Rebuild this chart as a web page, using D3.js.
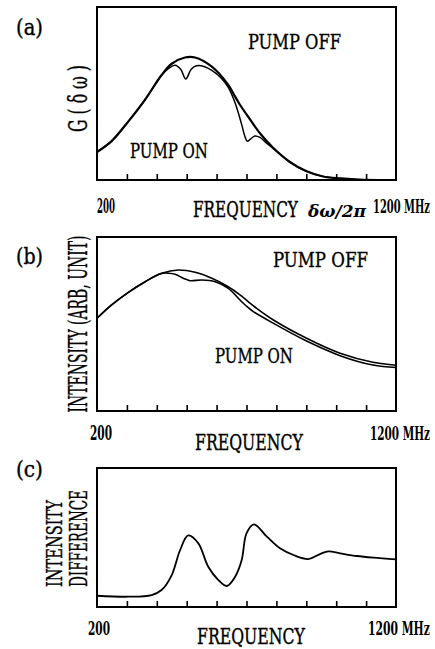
<!DOCTYPE html>
<html>
<head>
<meta charset="utf-8">
<style>
  body { margin: 0; background: #fff; }
  text { font-family: 'DejaVu Serif Condensed', 'DejaVu Serif', serif; fill: #000; stroke: #000; stroke-width: 0.35; }
</style>
</head>
<body>
<svg id="chart" width="435" height="649"></svg>
<script src="https://cdn.jsdelivr.net/npm/d3@7"></script>
<script>
// frequency ticks (MHz)
var tickFreqs = [300, 400, 500, 600, 700, 800, 900, 1000, 1100];

// (a) gain profile G(dw)
var freqA_off = [200, 249, 305, 361, 416, 450, 494, 528, 584, 639, 660, 678, 710, 745, 789, 845, 901, 956, 1013, 1070, 1200];
var gainA_off = [16.2, 22.5, 33.9, 46.5, 60.7, 67.2, 70.8, 70.8, 65.5, 55, 48.8, 43.5, 35.5, 27, 18.6, 10.4, 5, 2, 0.9, 0.3, 0];
var freqA_on = [200, 249, 305, 361, 416, 440, 461, 480, 497, 515, 533, 560, 584, 615, 639, 662, 684, 695, 703, 713, 728, 745, 765, 789, 845, 901, 956, 1013, 1070, 1200];
var gainA_on = [16.2, 22.5, 33.9, 46.5, 60.5, 64.5, 66.3, 64, 58.4, 64, 66, 65.5, 63.4, 59, 53.5, 44.5, 32, 25, 22.4, 23.6, 25.4, 24.6, 21.6, 18.3, 10.4, 5, 2.1, 0.9, 0.3, 0];

// (b) intensity
var freqB_off = [200, 249, 305, 361, 416, 472, 528, 584, 639, 678, 734, 790, 901, 1013, 1123, 1200];
var intB_off = [53.3, 61, 68.2, 74.3, 79.1, 81, 79.7, 76.3, 71.4, 66.7, 59, 52.3, 41.8, 33.2, 28, 26.3];
var freqB_on = [200, 249, 305, 361, 416, 440, 461, 490, 511, 550, 595, 639, 684, 705, 723, 790, 901, 1013, 1123, 1200];
var intB_on = [53.3, 61, 68.2, 74.3, 79, 79.2, 78.6, 76.2, 74.9, 75.3, 74.3, 70.5, 62.8, 59.5, 57.1, 50.4, 40.2, 31.8, 26.4, 25];

// (c) intensity difference
var freqC = [200, 305, 383, 416, 450, 478, 505, 539, 572, 606, 634, 662, 684, 700, 725, 768, 812, 857, 907, 946, 974, 1013, 1069, 1124, 1200];
var diffC = [8.1, 7.4, 8.6, 12.2, 23, 41, 51.5, 45.8, 29, 19.4, 15.1, 21.8, 33.8, 53, 59.5, 50.6, 42.2, 37.4, 34.5, 38.1, 40, 38.6, 36.7, 35.5, 34.3];

var svg = d3.select("#chart");
var x = d3.scaleLinear().domain([200, 1200]).range([97, 396]);

// text squeezed horizontally to a given length (the original lettering is tall and narrow)
function txt(g, px, py, s, size, len, opt) {
    opt = opt || {};
    var t = g.append("text")
        .attr("font-size", size)
        .text(s);
    if (opt.weight) t.attr("font-weight", opt.weight);
    if (opt.style) t.attr("font-style", opt.style);
    if (opt.anchor) t.attr("text-anchor", opt.anchor);
    if (opt.family) t.attr("font-family", opt.family);
    if (opt.weight) t.style("stroke-width", 0);
    var sx = len ? len / t.node().getComputedTextLength() : 1;
    t.attr("transform", "translate(" + px + "," + py + ")" +
        (opt.rot ? " rotate(-90)" : "") + " scale(" + sx + ",1)");
    return t;
}

function panel(top, bottom, series) {
    var y = d3.scaleLinear().domain([0, 100]).range([bottom, top]);
    var g = svg.append("g");

    //ticks pointing inward
    g.append("g")
        .attr("transform", "translate(0," + bottom + ")")
        .call(d3.axisBottom(x).tickValues(tickFreqs).tickSize(-6).tickFormat(""))
        .call(function (a) {
            a.select(".domain").remove();
            a.selectAll("line").attr("stroke", "#000").attr("stroke-width", 1.6);
        });

    var line = d3.line()
        .x(function (d) { return x(d[0]); })
        .y(function (d) { return y(d[1]); })
        .curve(d3.curveCatmullRom.alpha(0.5));

    series.forEach(function (s) {
        g.append("path")
            .datum(d3.zip(s.f, s.v))
            .attr("d", line)
            .attr("fill", "none")
            .attr("stroke", "#000")
            .attr("stroke-width", s.w)
            .attr("stroke-linejoin", "round");
    });

    g.append("rect")
        .attr("x", x(200)).attr("y", top)
        .attr("width", x(1200) - x(200)).attr("height", bottom - top)
        .attr("fill", "none").attr("stroke", "#000").attr("stroke-width", 2);
    return g;
}

var sans = "'DejaVu Sans', sans-serif";

// panel (a)
var ga = panel(7, 180, [
    { f: freqA_off, v: gainA_off, w: 2.2 },
    { f: freqA_on, v: gainA_on, w: 1.5 }
]);
txt(ga, 16, 35, "(a)", 22, 27, { family: sans });
txt(ga, 248, 48.5, "PUMP OFF", 21, 93);
txt(ga, 130, 158, "PUMP ON", 21, 78);
txt(ga, 87, 98.5, "G ( δ ω )", 26, 67, { rot: true, anchor: "middle", family: sans });
txt(ga, 97, 213, "200", 20, 18, { weight: "bold" });
txt(ga, 193, 217, "FREQUENCY", 22, 105);
txt(ga, 308, 217, "δω/2π", 17, 58, { weight: "bold", style: "italic" });
txt(ga, 373, 213, "1200 MHz", 18, 57, { weight: "bold" });

// panel (b)
var gb = panel(237, 411, [
    { f: freqB_off, v: intB_off, w: 1.6 },
    { f: freqB_on, v: intB_on, w: 1.6 }
]);
txt(gb, 16, 264, "(b)", 22, 27, { family: sans });
txt(gb, 273, 267, "PUMP OFF", 21, 95);
txt(gb, 215, 363, "PUMP ON", 21, 78);
txt(gb, 87, 324, "INTENSITY (ARB, UNIT)", 26, 177, { rot: true, anchor: "middle" });
txt(gb, 90, 440, "200", 20, 22, { weight: "bold" });
txt(gb, 195, 450, "FREQUENCY", 22, 108);
txt(gb, 370, 440, "1200 MHz", 18, 60, { weight: "bold" });

// panel (c)
var gc = panel(468, 607, [
    { f: freqC, v: diffC, w: 1.8 }
]);
txt(gc, 16, 477, "(c)", 22, 27, { family: sans });
txt(gc, 62, 587, "INTENSITY", 23, 87, { rot: true });
txt(gc, 87, 587, "DIFFERENCE", 24, 97, { rot: true });
txt(gc, 88, 635, "200", 19, 22, { weight: "bold" });
txt(gc, 197, 644, "FREQUENCY", 22, 108);
txt(gc, 368, 635, "1200 MHz", 18, 62, { weight: "bold" });
</script>
</body>
</html>
